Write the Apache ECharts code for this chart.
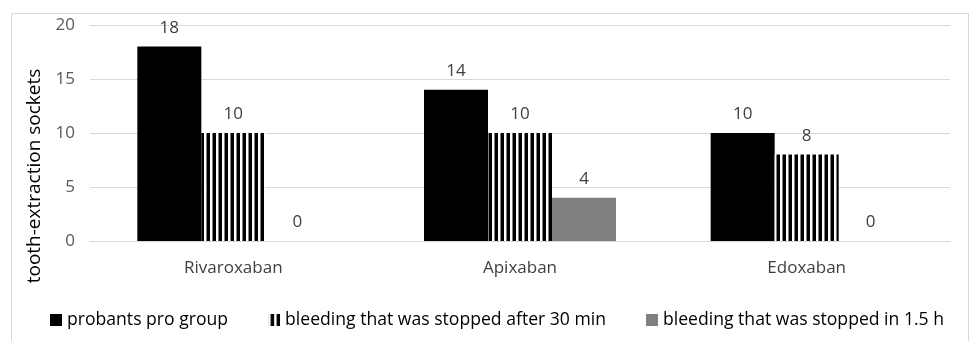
<!DOCTYPE html>
<html>
<head>
<meta charset="utf-8">
<script src="https://cdn.jsdelivr.net/npm/echarts@6/dist/echarts.min.js"></script>
<style>
  html, body { margin: 0; padding: 0; background: #fff; }
  #chart { width: 970px; height: 341px; }
</style>
</head>
<body>
<div id="chart"></div>
<script>
const categories = ['Rivaroxaban', 'Apixaban', 'Edoxaban'];
const probants = [18, 14, 10];
const stopped30min = [10, 10, 8];
const stopped15h = [0, 4, 0];
const seriesNames = ['probants pro group', 'bleeding that was stopped after 30 min', 'bleeding that was stopped in 1.5 h'];

const FONT = '"Open Sans", sans-serif';

// vertical stripes for the 30 min series
function stripes() {
  const c = document.createElement('canvas');
  c.width = 6;
  c.height = 6;
  const ctx = c.getContext('2d');
  ctx.fillStyle = '#fff';
  ctx.fillRect(0, 0, 6, 6);
  ctx.fillStyle = '#000';
  ctx.fillRect(2.5, 0, 3.5, 6);
  return c;
}

const chart = echarts.init(document.getElementById('chart'));

const label = {
  show: true,
  position: 'top',
  distance: 10,
  color: '#404040',
  fontFamily: FONT,
  fontSize: 17
};

chart.setOption({
  animation: false,
  grid: { left: 90, right: 20, top: 25, bottom: 100, containLabel: false },
  graphic: [
    {
      type: 'rect',
      shape: { x: 11.5, y: 13.5, width: 957, height: 340 },
      style: { fill: 'none', stroke: '#d9d9d9', lineWidth: 1 },
      silent: true
    },
    {
      type: 'text',
      x: 35,
      y: 176,
      rotation: Math.PI / 2,
      style: {
        text: 'tooth-extraction sockets',
        fill: '#000',
        font: '19px "Open Sans", sans-serif',
        align: 'center',
        verticalAlign: 'middle'
      }
    }
  ],
  legend: {
    left: 50,
    top: 311,
    padding: 0,
    itemWidth: 12,
    itemHeight: 12,
    itemGap: 40,
    icon: 'rect',
    textStyle: { color: '#000', fontFamily: FONT, fontSize: 17.6 },
    data: seriesNames
  },
  xAxis: {
    type: 'category',
    data: categories,
    axisLine: { lineStyle: { color: '#d9d9d9', width: 1 } },
    axisTick: { show: false },
    axisLabel: { color: '#404040', fontFamily: FONT, fontSize: 17, margin: 19 }
  },
  yAxis: {
    type: 'value',
    min: 0,
    max: 20,
    interval: 5,
    axisLine: { show: false },
    axisTick: { show: false },
    splitLine: { lineStyle: { color: '#d9d9d9', width: 1 } },
    axisLabel: { color: '#595959', fontFamily: FONT, fontSize: 17, margin: 15 }
  },
  series: [
    {
      name: seriesNames[0],
      type: 'bar',
      data: probants,
      barWidth: 64,
      barGap: '0%',
      itemStyle: { color: '#000' },
      label: label
    },
    {
      name: seriesNames[1],
      type: 'bar',
      data: stopped30min,
      barWidth: 64,
      barGap: '0%',
      itemStyle: { color: { image: stripes(), repeat: 'repeat' } },
      label: label
    },
    {
      name: seriesNames[2],
      type: 'bar',
      data: stopped15h,
      barWidth: 64,
      barGap: '0%',
      itemStyle: { color: '#7f7f7f' },
      label: label
    }
  ]
});
</script>
</body>
</html>
